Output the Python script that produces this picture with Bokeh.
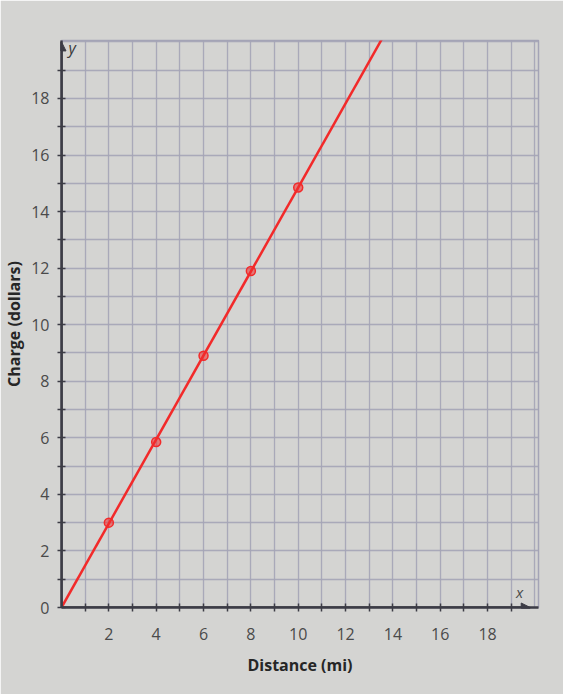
from bokeh.plotting import figure
from bokeh.models import FixedTicker, Range1d, Arrow, NormalHead, Label
from bokeh.embed import file_html
from bokeh.resources import INLINE

# data
distance = [2, 4, 6, 8, 10]
charge = [3.0, 5.85, 8.9, 11.9, 14.85]
line_x = [0, 13.6]
line_y = [0, 20.2]
x_ticks = [2, 4, 6, 8, 10, 12, 14, 16, 18]
y_ticks = [0, 2, 4, 6, 8, 10, 12, 14, 16, 18]
minor = [1, 3, 5, 7, 9, 11, 13, 15, 17, 19]
grid_vals = list(range(0, 21))

BG = "#d4d4d2"
GRID = "#a4a4b6"
AXIS = "#3c3c46"
RED = "#f22a2a"
FONT = "Open Sans"

p = figure(width=563, height=694, output_backend="svg", toolbar_location=None,
           x_range=Range1d(0, 20.15), y_range=Range1d(0, 20.05),
           min_border_left=61, min_border_top=40, min_border_right=25, min_border_bottom=87)
p.background_fill_color = BG
p.border_fill_color = BG
p.outline_line_color = GRID
p.outline_line_width = 1.5

for ax in (p.xaxis[0], p.yaxis[0]):
    ax.axis_line_color = AXIS
    ax.axis_line_width = 2.5
    ax.major_tick_line_color = AXIS
    ax.minor_tick_line_color = AXIS
    ax.major_tick_line_width = 1.5
    ax.minor_tick_line_width = 1.5
    ax.major_tick_in = 4
    ax.major_tick_out = 4
    ax.minor_tick_in = 4
    ax.minor_tick_out = 4
    ax.major_label_text_font = FONT
    ax.major_label_text_font_size = "16px"
    ax.major_label_text_color = "#4a4a4a"
    ax.axis_label_text_font = FONT
    ax.axis_label_text_font_size = "16px"
    ax.axis_label_text_font_style = "bold"
    ax.axis_label_text_color = "#262626"

p.xaxis[0].ticker = FixedTicker(ticks=x_ticks, minor_ticks=minor)
p.yaxis[0].ticker = FixedTicker(ticks=y_ticks, minor_ticks=minor)
p.xaxis[0].major_label_standoff = 16
p.yaxis[0].major_label_standoff = 8
p.xaxis[0].axis_label = "Distance (mi)"
p.xaxis[0].axis_label_standoff = 11
p.yaxis[0].axis_label = "Charge (dollars)"
p.yaxis[0].axis_label_standoff = 3

p.xgrid[0].ticker = FixedTicker(ticks=grid_vals)
p.ygrid[0].ticker = FixedTicker(ticks=grid_vals)
for g in (p.xgrid[0], p.ygrid[0]):
    g.grid_line_color = GRID
    g.grid_line_width = 1.3
    g.grid_line_alpha = 0.9

# axis arrows
p.add_layout(Arrow(end=NormalHead(size=9, fill_color=AXIS, line_color=AXIS),
                   x_start=0, y_start=0, x_end=19.8, y_end=0,
                   line_color=AXIS, line_width=2.5))
p.add_layout(Arrow(end=NormalHead(size=9, fill_color=AXIS, line_color=AXIS),
                   x_start=0, y_start=0, x_end=0, y_end=20.0,
                   line_color=AXIS, line_width=2.5))

p.line(line_x, line_y, line_color=RED, line_width=2.5)
p.scatter(distance, charge, size=9, marker="circle", fill_color=RED, fill_alpha=0.55,
          line_color=RED, line_width=1.5)

p.add_layout(Label(x=19.35, y=0, x_offset=0, y_offset=6, text="x", text_font=FONT,
                   text_font_size="15px", text_font_style="italic", text_color="#4a4a4a",
                   text_align="center"))
p.add_layout(Label(x=0, y=19.6, x_offset=7, y_offset=-6, text="y", text_font=FONT,
                   text_font_size="16px", text_font_style="italic", text_color="#3a3a3a",
                   text_align="left"))

open("out.html", "w").write(file_html(p, INLINE))
